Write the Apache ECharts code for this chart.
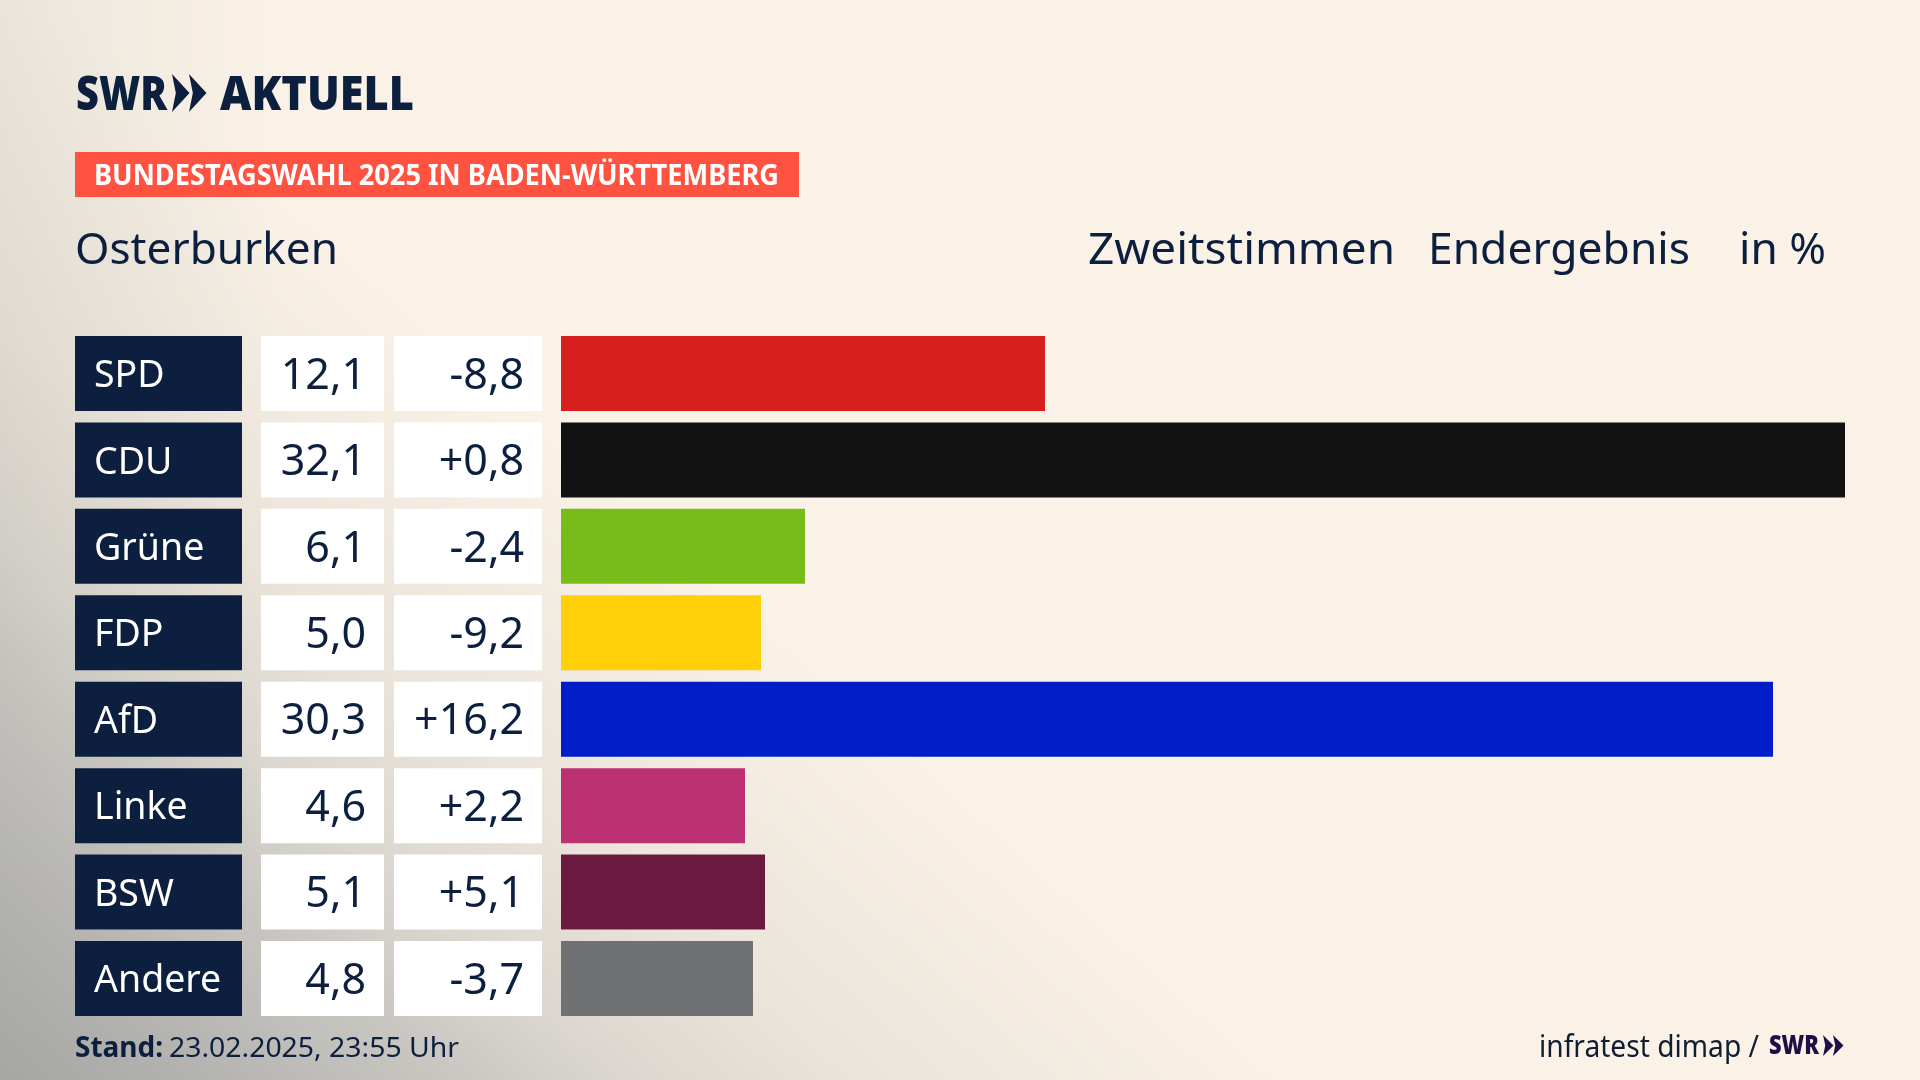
<!DOCTYPE html>
<html><head><meta charset="utf-8">
<style>
html,body{margin:0;padding:0;width:1920px;height:1080px;overflow:hidden;background-color:#faf2e7;
background-image:linear-gradient(90deg,rgba(165,165,160,.16) 0px,rgba(165,165,160,0) 280px),linear-gradient(221.4deg,#faf2e7 0%,#faf2e7 59%,#ebe4da 72.7%,#dad6cf 80.5%,#cbc8c3 85%,#b8b7b4 92%,#a6a6a5 100%);}
#c{width:1920px;height:1080px}
</style>
<script src="https://cdn.jsdelivr.net/npm/echarts@6/dist/echarts.min.js"></script>
</head><body><div id="c"></div>
<script>
const categories=['SPD','CDU','Grüne','FDP','AfD','Linke','BSW','Andere'];
const shares=[12.1,32.1,6.1,5.0,30.3,4.6,5.1,4.8];
const changes=[-8.8,0.8,-2.4,-9.2,16.2,2.2,5.1,-3.7];
const partyColors=['#d71f1d','#121212','#78bc1a','#ffcf0a','#001ec8','#bc3074','#6a1a3f','#707173'];
const cellFill=[1,1,1,1,1,1,1,1];

const NAVY='#0c1f3f', FONT='"Noto Sans"';
const chart=echarts.init(document.getElementById('c'),null,{renderer:'canvas',width:1920,height:1080});
const fmt=v=>v.toFixed(1).replace('.',',');
const fmtD=v=>(v>0?'+':'')+fmt(v);
const columns=[[75,167],[261,123],[394,148],[561,1284]];
const grid=columns.map(c=>({left:c[0],width:c[1],top:330.3,height:691.4}));
const xAxis=columns.map((c,i)=>({type:'value',gridIndex:i,show:false,min:0,max:i===3?32.1:1}));
const yAxis=columns.map((c,i)=>({type:'category',gridIndex:i,show:false,inverse:true,data:categories}));
function cell(i,color,txtColor,pos,fm,size,dist){
  return {type:'bar',xAxisIndex:i,yAxisIndex:i,barWidth:75,silent:true,data:cellFill,itemStyle:{color},
    label:{show:true,position:pos,distance:dist,offset:[0,3],color:txtColor,fontFamily:FONT,fontSize:size,formatter:fm}};
}
const series=[
  cell(0,NAVY,'#ffffff','insideLeft',p=>categories[p.dataIndex],37.5,19),
  cell(1,'#ffffff',NAVY,'insideRight',p=>fmt(shares[p.dataIndex]),43,18),
  cell(2,'#ffffff',NAVY,'insideRight',p=>fmtD(changes[p.dataIndex]),43,18),
  {type:'bar',xAxisIndex:3,yAxisIndex:3,barWidth:75,silent:true,
   data:shares.map((v,i)=>({value:v,itemStyle:{color:partyColors[i]}}))}
];
const mc=document.createElement('canvas').getContext('2d');
function fit(text,x,y,w,size,weight,color){
  const font=(weight||'normal')+' '+size+'px '+FONT;
  mc.font=font;
  return {type:'text',x,y,scaleX:w/mc.measureText(text).width,z:10,silent:true,
    style:{text,fill:color||NAVY,font,textVerticalAlign:'middle',textAlign:'left'}};
}
function chevron(x,yTop,yBot,w,color){
  const m=(yTop+yBot)/2;
  return {type:'polygon',z:10,silent:true,shape:{points:[[x,yTop],[x+w,m],[x,yBot],[x+w*0.22,m]]},style:{fill:color}};
}
const graphic=[
  fit('SWR',76,96,91,48,'900'),
  chevron(172,74,112,17.5,NAVY),chevron(189,74,112,17.5,NAVY),
  fit('AKTUELL',220,96,194,48,'900'),
  {type:'rect',z:5,silent:true,shape:{x:75,y:152,width:724,height:45},style:{fill:'#ff5240'}},
  fit('BUNDESTAGSWAHL 2025 IN BADEN-WÜRTTEMBERG',94,177.5,685,28,'bold','#ffffff'),
  fit('Osterburken',75,251.5,263,44),
  fit('Zweitstimmen',1088,251.5,307,44),
  fit('Endergebnis',1428,251.5,262,44),
  fit('in %',1739,251.5,87,44),
  fit('Stand:',75,1049.5,88,28,'bold'),
  fit('23.02.2025, 23:55 Uhr',169,1049.5,290,28),
  fit('infratest dimap /',1539,1048.5,220,30,'normal','#111d33'),
  fit('SWR',1769,1047,50,26,'900','#1e0f46'),
  chevron(1823,1035,1056,10.5,'#1e0f46'),chevron(1833,1035,1056,10.5,'#1e0f46')
];
chart.setOption({animation:false,backgroundColor:'transparent',grid,xAxis,yAxis,series,graphic});
</script></body></html>
